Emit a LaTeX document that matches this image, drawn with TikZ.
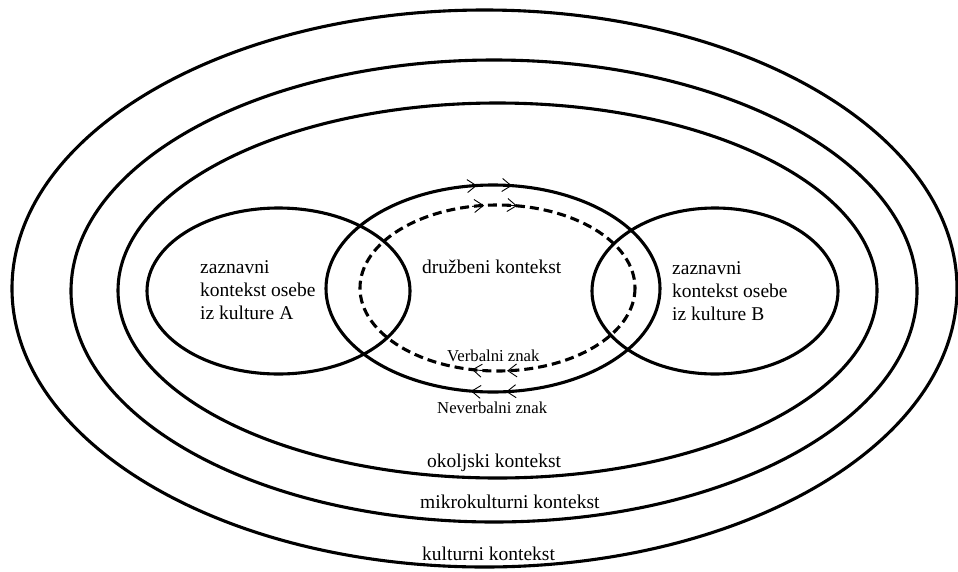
\documentclass[tikz,border=0pt]{standalone}
\usepackage{fontspec}
\setmainfont{Liberation Serif}
\usetikzlibrary{arrows.meta}
\begin{document}
\begin{tikzpicture}[x=1pt,y=-1pt,
  ring/.style={line width=3.1pt},
  dashring/.style={line width=3.1pt, dash pattern=on 9pt off 5pt},
  sig/.style={line width=0.9pt, -{Straight Barb[length=9pt,width=13pt,line width=0.9pt]}},
  lbl/.style={inner sep=0pt, font=\fontsize{19.5}{23}\selectfont, align=left, anchor=base west},
  small/.style={inner sep=0pt, font=\fontsize{16.7}{19}\selectfont, anchor=base west}]
\useasboundingbox (0,0) rectangle (958,571);
% concentric contexts
\coordinate (cO) at (484.5,288.5);
\coordinate (cM) at (494,291);
\coordinate (cE) at (497.5,290.5);
\draw[ring] (cO) ellipse [x radius=472.5, y radius=278.5];
\draw[ring] (cM) ellipse [x radius=423, y radius=231];
\draw[ring] (cE) ellipse [x radius=379.5, y radius=187.5];
% perception contexts
\coordinate (cA) at (278.5,291);
\coordinate (cB) at (715,291);
\draw[ring] (cA) ellipse [x radius=131.5, y radius=83];
\draw[ring] (cB) ellipse [x radius=123, y radius=83];
% social context
\coordinate (cS) at (493,288.5);
\coordinate (cD) at (497.5,288);
\draw[ring] (cS) ellipse [x radius=167, y radius=103.5];
\draw[dashring] (cD) ellipse [x radius=137.5, y radius=83];
% arrows: non-verbal (solid) and verbal (dashed)
\draw[sig] (cS) ++(-99.5:167 and 103.5) arc[start angle=-99.5, end angle=-95.5, x radius=167, y radius=103.5];
\draw[sig] (cS) ++(-87.5:167 and 103.5) arc[start angle=-87.5, end angle=-83.5, x radius=167, y radius=103.5];
\draw[sig] (cD) ++(-100.6:137.5 and 83) arc[start angle=-100.6, end angle=-95.6, x radius=137.5, y radius=83];
\draw[sig] (cD) ++(-86.8:137.5 and 83) arc[start angle=-86.8, end angle=-81.8, x radius=137.5, y radius=83];
\draw[sig] (cD) ++(95.7:137.5 and 83) arc[start angle=95.7, end angle=100.7, x radius=137.5, y radius=83];
\draw[sig] (cD) ++(81:137.5 and 83) arc[start angle=81, end angle=86, x radius=137.5, y radius=83];
\draw[sig] (cS) ++(93.6:167 and 103.5) arc[start angle=93.6, end angle=97.6, x radius=167, y radius=103.5];
\draw[sig] (cS) ++(81.5:167 and 103.5) arc[start angle=81.5, end angle=85.5, x radius=167, y radius=103.5];
% labels
\node[lbl] (tA) at (200,319) {zaznavni\\kontekst osebe\\iz kulture A};
\node[lbl] (tB) at (672,320) {zaznavni\\kontekst osebe\\iz kulture B};
\node[lbl] (tS) at (422,273) {družbeni kontekst};
\node[small] (tV) at (447,361) {Verbalni znak};
\node[small] (tN) at (437,413) {Neverbalni znak};
\node[lbl] (tE) at (427,467) {okoljski kontekst};
\node[lbl] (tM) at (420,508) {mikrokulturni kontekst};
\node[lbl] (tO) at (422,560) {kulturni kontekst};
\end{tikzpicture}
\end{document}
